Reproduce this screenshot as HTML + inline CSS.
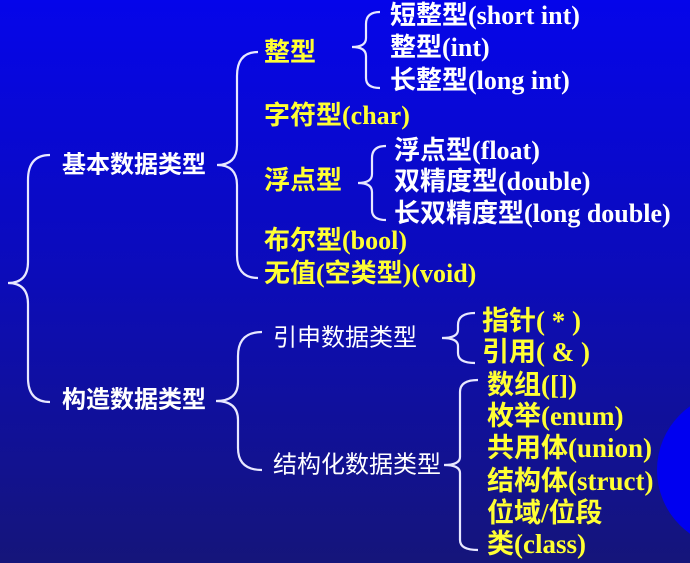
<!DOCTYPE html>
<html><head><meta charset="utf-8"><style>
html,body{margin:0;padding:0;width:690px;height:563px;overflow:hidden}
body{background:linear-gradient(#0505ea,#0c0cb8 50%,#15157a)}
svg{position:absolute;left:0;top:0}
text{font-family:"Liberation Serif","Noto Sans CJK SC",serif;font-weight:bold;font-size:26px;dominant-baseline:middle}
.m{font-size:24px}
.b{font-size:27px}
.y{fill:#ffff33}.w{fill:#fff}
path{fill:none;stroke:#e8e8ff;stroke-width:2.2}
</style></head><body>
<svg width="690" height="563" viewBox="0 0 690 563">
<circle cx="735" cy="470" r="78" fill="#0000f0"/>
<path d="M50 155 Q28 155 28 180 L28 262 Q28 283 8 283 Q28 283 28 304 L28 378 Q28 402 50 402"/>
<path d="M258 52 Q237 52 237 76 L237 145 Q237 165 217 165 Q237 165 237 185 L237 255 Q237 278 258 278"/>
<path d="M380 12 Q366 12 366 24 L366 38 Q366 47 352 47 Q366 47 366 56 L366 78 Q366 88 380 88"/>
<path d="M386 146 Q372 146 372 158 L372 174 Q372 183 358 183 Q372 183 372 192 L372 210 Q372 220 386 220"/>
<path d="M262 332 Q238 332 238 356 L238 382 Q238 401 216 401 Q238 401 238 420 L238 448 Q238 470 262 470"/>
<path d="M475 313 Q458 313 458 325 L458 330 Q458 338 442 338 Q458 338 458 346 L458 353 Q458 363 475 363"/>
<path d="M478 380 Q460 380 460 392 L460 457 Q460 465 444 465 Q460 465 460 473 L460 540 Q460 550 478 550"/>
<text class="w m" x="62" y="167">基本数据类型</text>
<text class="w m" x="62" y="402">构造数据类型</text>
<text class="y" x="264" y="55">整型</text>
<text class="y" x="264" y="118">字符型(char)</text>
<text class="y" x="264" y="183">浮点型</text>
<text class="y" x="264" y="243">布尔型(bool)</text>
<text class="y" x="264" y="276">无值(空类型)(void)</text>
<text class="w" x="390" y="18">短整型(short int)</text>
<text class="w" x="390" y="50">整型(int)</text>
<text class="w" x="390" y="83">长整型(long int)</text>
<text class="w" x="394" y="153">浮点型(float)</text>
<text class="w" x="394" y="184">双精度型(double)</text>
<text class="w" x="394" y="216">长双精度型(long double)</text>
<text class="w m" x="273" y="340" style="font-weight:normal">引申数据类型</text>
<text class="w m" x="273" y="467" style="font-weight:normal">结构化数据类型</text>
<text class="y b" x="482" y="324" xml:space="preserve">指针( * )</text>
<text class="y b" x="482" y="355" xml:space="preserve">引用( &amp; )</text>
<text class="y b" x="487" y="388">数组([])</text>
<text class="y b" x="487" y="419">枚举(enum)</text>
<text class="y b" x="487" y="451">共用体(union)</text>
<text class="y b" x="487" y="484">结构体(struct)</text>
<text class="y b" x="487" y="516">位域/位段</text>
<text class="y b" x="487" y="547">类(class)</text>
</svg>
</body></html>
